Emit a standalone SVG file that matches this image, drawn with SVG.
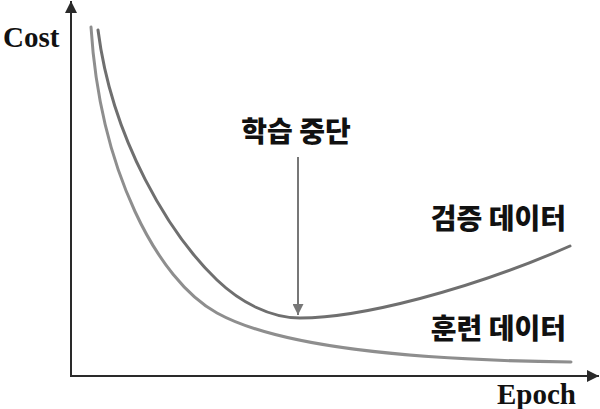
<svg xmlns="http://www.w3.org/2000/svg" width="600" height="409" viewBox="0 0 600 409">
<style>
.axis{stroke:#2a2a2a;stroke-width:2;fill:none}
.val{stroke:#6f6f6f;stroke-width:3;fill:none;stroke-linecap:round}
.trn{stroke:#8e8e8e;stroke-width:3;fill:none;stroke-linecap:round}
.lat{font-family:"Liberation Serif","DejaVu Serif",serif;font-weight:bold;font-size:29px;fill:#111}
.ko{font-family:"Noto Sans CJK KR","Noto Sans",sans-serif;font-weight:900;font-size:28px;fill:#111}
</style>
<defs>
<marker id="ah" viewBox="0 0 10 10" refX="10" refY="5" markerWidth="12" markerHeight="12" markerUnits="userSpaceOnUse" orient="auto">
<path d="M0,0 L10,5 L0,10 Z" fill="#2a2a2a"/>
</marker>
<marker id="ga" viewBox="0 0 10 10" refX="10" refY="5" markerWidth="11" markerHeight="11" markerUnits="userSpaceOnUse" orient="auto">
<path d="M0,0 L10,5 L0,10 Z" fill="#777"/>
</marker>
</defs>
<rect width="600" height="409" fill="#fff"/>
<g id="axes">
<line class="axis" x1="71" y1="377" x2="71" y2="1" marker-end="url(#ah)"/>
<line class="axis" x1="70" y1="376" x2="599" y2="376" marker-end="url(#ah)"/>
<text class="lat" x="3" y="47">Cost</text>
<text class="lat" x="497" y="404">Epoch</text>
</g>
<g id="validation-curve">
<path class="val" d="M98,30 C112,140 170,235 217,280 C240,302 270,318 300,318 C360,318 470,290 570,246"/>
<text class="ko" x="566" y="229" text-anchor="end">검증 데이터</text>
</g>
<g id="training-curve">
<path class="trn" d="M91,27 C100,170 157,280 217,313 C277,346 400,360 571,362"/>
<text class="ko" x="566" y="339" text-anchor="end">훈련 데이터</text>
</g>
<g id="stop-label">
<text class="ko" x="296" y="142" text-anchor="middle">학습 중단</text>
</g>
<g id="connectors">
<line x1="298" y1="157" x2="298" y2="315" stroke="#777" stroke-width="2" marker-end="url(#ga)"/>
</g>
</svg>
